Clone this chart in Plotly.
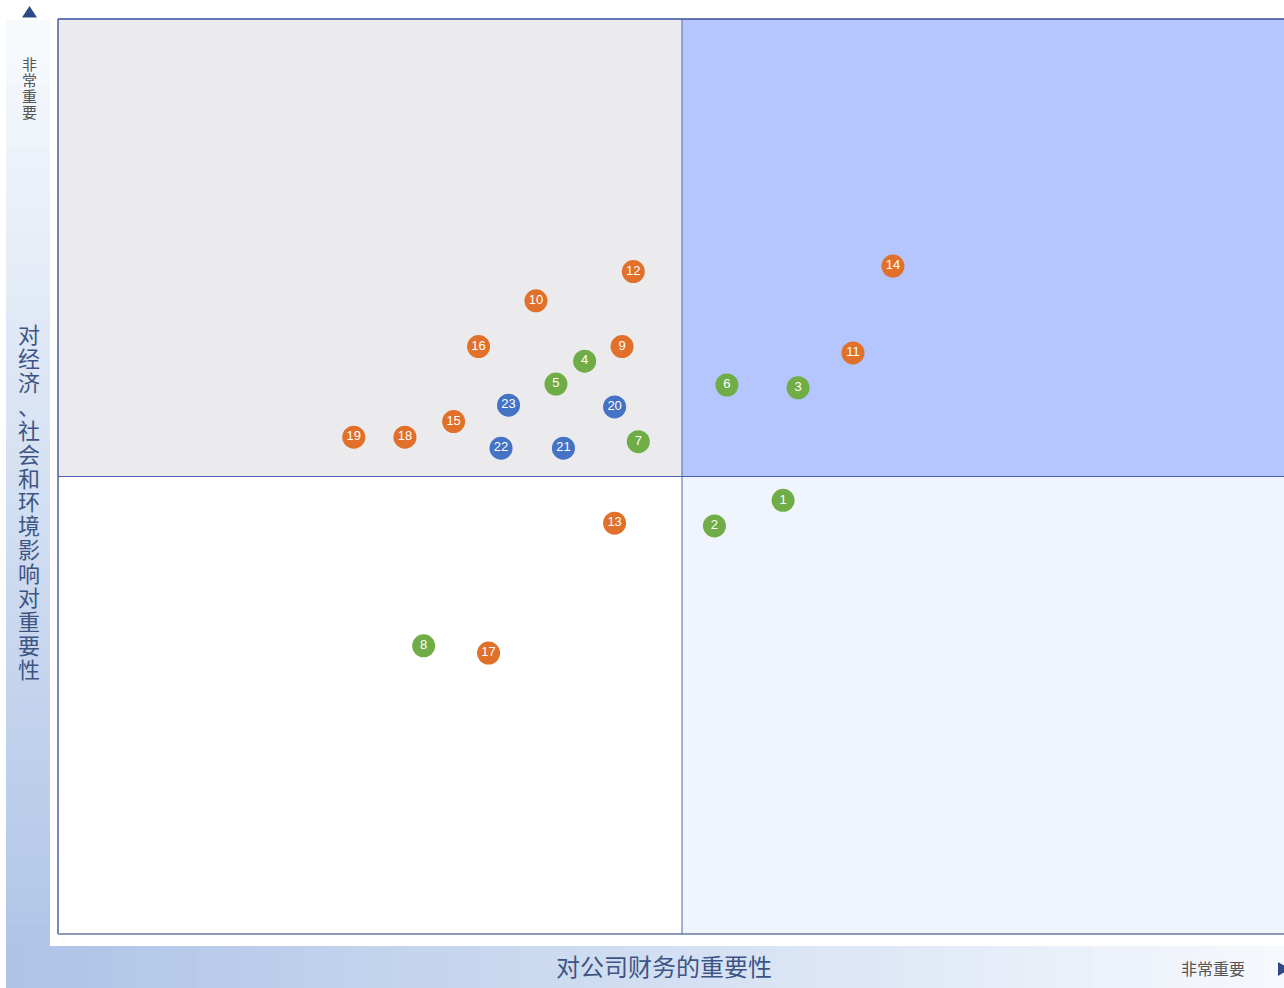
import plotly.graph_objects as go

# ---- data (scores 0-10 on both axes, threshold at 5) ----
ids = [str(i) for i in range(1, 24)]
fin_importance = [5.81, 5.26, 5.93, 4.22, 3.99, 5.36, 4.65, 2.93, 4.52, 3.83, 6.37, 4.61,
                  4.46, 6.69, 3.17, 3.37, 3.45, 2.78, 2.37, 4.46, 4.05, 3.55, 3.61]
impact_importance = [4.74, 4.46, 5.97, 6.26, 6.01, 6.00, 5.38, 3.15, 6.42, 6.92, 6.35, 7.24,
                     4.49, 7.30, 5.60, 6.42, 3.07, 5.43, 5.43, 5.76, 5.31, 5.31, 5.78]
groups = ["env", "env", "env", "env", "env", "env", "env", "env",
          "soc", "soc", "soc", "soc", "soc", "soc", "soc", "soc", "soc", "soc", "soc",
          "gov", "gov", "gov", "gov"]
group_colors = {"env": "#70AD47", "soc": "#E0702A", "gov": "#4472C4"}

x_label = "对公司财务的重要性"
y_label = "对经济、社会和环境影响对重要性"
end_label = "非常重要"

W, H = 1284, 988
L, R, T, B = 58, 1284, 19, 934
X_MAX = 10 * (R - L) / (2 * (682 - L))  # threshold 5 sits at x=682 px


def px(x):
    return (x - L) / (R - L)


def py(y):
    return (B - y) / (B - T)


def hexmix(c1, c2, t):
    a = [int(c1[i:i + 2], 16) for i in (1, 3, 5)]
    b = [int(c2[i:i + 2], 16) for i in (1, 3, 5)]
    return "#%02x%02x%02x" % tuple(round(a[k] + (b[k] - a[k]) * t) for k in range(3))


shapes = []
# gradient strips (decorative frame)
N = 60
top_px, bot_px = 20, 988
for i in range(N):
    y0 = top_px + (bot_px - top_px) * i / N
    y1 = top_px + (bot_px - top_px) * (i + 1) / N
    c = hexmix("#F8FAFD", "#ADC3E6", (i + 0.5) / N)
    shapes.append(dict(type="rect", xref="paper", yref="paper", x0=px(6), x1=px(50),
                       y0=py(min(y1 + 1.5, bot_px)), y1=py(y0), fillcolor=c,
                       line=dict(width=0), layer="below"))
for i in range(N):
    x0 = 6 + (1284 - 6) * i / N
    x1 = 6 + (1284 - 6) * (i + 1) / N
    c = hexmix("#ADC3E6", "#F6F9FD", (i + 0.5) / N)
    shapes.append(dict(type="rect", xref="paper", yref="paper", x0=px(x0), x1=px(x1 + 1.5),
                       y0=py(988), y1=py(946), fillcolor=c, line=dict(width=0), layer="below"))

# quadrant backgrounds (data coords)
quads = [
    (0, 5, 5, 10, "#EBEBEE"),
    (5, X_MAX, 5, 10, "#B4C6FD"),
    (0, 5, 0, 5, "#FFFFFF"),
    (5, X_MAX, 0, 5, "#F0F5FD"),
]
for x0, x1, y0, y1, c in quads:
    shapes.append(dict(type="rect", xref="x", yref="y", x0=x0, x1=x1, y0=y0, y1=y1,
                       fillcolor=c, line=dict(width=0), layer="below"))

# frame lines
shapes += [
    dict(type="line", xref="paper", yref="paper", x0=px(58), x1=px(1284), y0=py(19), y1=py(19),
         line=dict(color="#3A4E9C", width=1.5)),
    dict(type="line", xref="paper", yref="paper", x0=px(58), x1=px(58), y0=py(19), y1=py(934),
         line=dict(color="#4E5E9E", width=1.5)),
    dict(type="line", xref="paper", yref="paper", x0=px(58), x1=px(1284), y0=py(934), y1=py(934),
         line=dict(color="#8E9BB6", width=2)),
    dict(type="line", xref="x", yref="y", x0=5, x1=5, y0=0, y1=10,
         line=dict(color="#5366A8", width=1)),
    dict(type="line", xref="x", yref="y", x0=0, x1=X_MAX, y0=5, y1=5,
         line=dict(color="#4A5EB0", width=1)),
]


def path(pts):
    return "M " + " L ".join(f"{px(a)},{py(b)}" for a, b in pts) + " Z"


shapes.append(dict(type="path", xref="paper", yref="paper",
                   path=path([(22, 17.5), (37, 17.5), (29.5, 6)]),
                   fillcolor="#2E4A86", line=dict(width=0)))
shapes.append(dict(type="path", xref="paper", yref="paper",
                   path=path([(1278, 962), (1278, 976), (1290, 969)]),
                   fillcolor="#2E4A86", line=dict(width=0)))

cjk = "Noto Sans CJK SC"


def stacked(text, glyph_px):
    return "<br>".join(f'<span style="font-size:{glyph_px}px">{ch}</span>' for ch in text)


annotations = [
    # vertical y label: line pitch 1.3*18.4 ~ 24px, glyphs at 22px
    dict(xref="paper", yref="paper", x=px(29), y=py(500), text=stacked(y_label, 22),
         showarrow=False, xanchor="center", yanchor="middle", align="center",
         font=dict(family=cjk, size=18.4, color="#3E5584")),
    dict(xref="paper", yref="paper", x=px(29.5), y=py(87), text=stacked(end_label, 15),
         showarrow=False, xanchor="center", yanchor="middle", align="center",
         font=dict(family=cjk, size=12.3, color="#555555")),
    dict(xref="paper", yref="paper", x=px(664), y=py(965), text=x_label,
         showarrow=False, xanchor="center", yanchor="middle",
         font=dict(family=cjk, size=24, color="#3E5584")),
    dict(xref="paper", yref="paper", x=px(1213), y=py(968), text=end_label,
         showarrow=False, xanchor="center", yanchor="middle",
         font=dict(family=cjk, size=16, color="#555555")),
]

fig = go.Figure()
fig.add_trace(go.Scatter(
    x=fin_importance, y=impact_importance, text=ids, mode="markers+text",
    textposition="middle center",
    marker=dict(size=23, color=[group_colors[g] for g in groups], line=dict(width=0)),
    textfont=dict(family="Liberation Sans", size=13, color="white"),
    hoverinfo="skip", cliponaxis=False,
))

fig.update_layout(
    width=W, height=H,
    margin=dict(l=L, r=W - R, t=T, b=H - B),
    paper_bgcolor="white", plot_bgcolor="rgba(0,0,0,0)",
    showlegend=False,
    xaxis=dict(range=[0, X_MAX], visible=False, fixedrange=True),
    yaxis=dict(range=[0, 10], visible=False, fixedrange=True),
    shapes=shapes, annotations=annotations,
)

fig.write_html("out.html", config={"displayModeBar": False},
               post_script="document.body.style.margin='0';document.body.style.overflow='hidden';")
